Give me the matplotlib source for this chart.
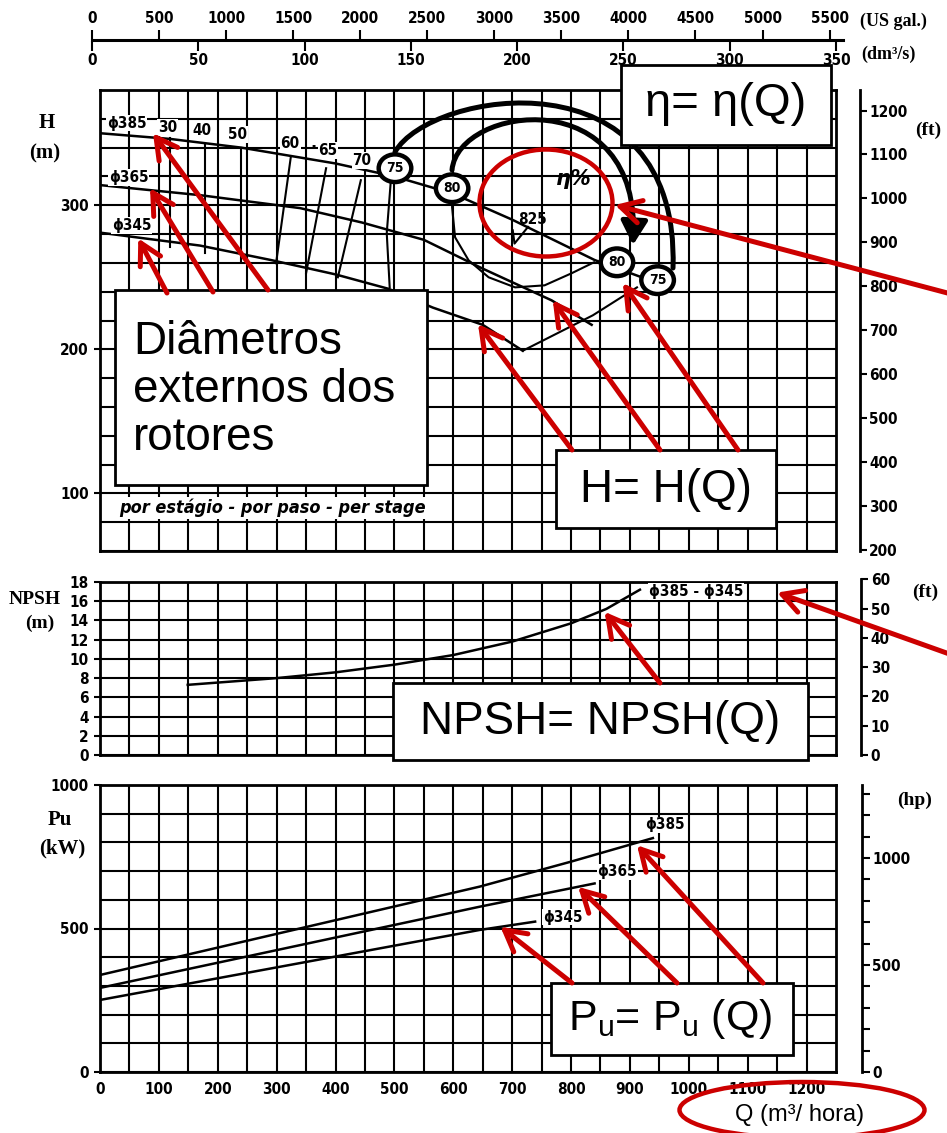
import numpy as np
import matplotlib
matplotlib.use('Agg')
import matplotlib.pyplot as plt
from matplotlib.patches import Rectangle, Ellipse, FancyArrowPatch
from matplotlib.path import Path
from matplotlib import font_manager as fm

# ---------------- data ----------------
q_ticks = list(range(0, 1201, 100))
gal_ticks = list(range(0, 5501, 500))
dm3s_ticks = list(range(0, 351, 50))

# H-Q curves per impeller diameter
q_h385 = [0, 120, 240, 400, 500, 600, 700, 780, 840, 940]
h_385 = [350, 346, 340, 329, 320, 308, 290, 274, 262, 247]
q_h365 = [0, 170, 340, 445, 550, 650, 767, 835]
h_365 = [314, 307, 298, 288, 276, 256, 234, 217]
q_h345 = [0, 170, 290, 400, 490, 565, 650, 718]
h_345 = [281, 272, 262, 252, 242, 229, 217, 199]

# iso-efficiency lines
eff_labels = ['30', '40', '50', '60', '65', '70']
eff_q_top = [119, 178, 239, 324, 384, 443]
eff_h_top = [346.5, 341.7, 340, 333.3, 325.7, 317.4]
eff_q_bot = [119, 178, 239, 299, 350, 404]
eff_h_bot = [271, 266.7, 260.4, 259.7, 252.8, 250]
eff_lab_q = [115, 173, 234, 323, 387, 445]
eff_lab_h = [354, 352, 349, 343, 338, 331]
eff75_left_q = [494, 487, 492]
eff75_left_h = [317.4, 280.6, 243]
eff75_right_q = [718, 837, 912]
eff75_right_h = [199, 223.6, 243]
eff80_q = [598, 598, 603, 626, 660, 705, 755, 801, 839]
eff80_h = [308, 298.6, 277.8, 261.8, 250, 243, 244.4, 252.8, 260.4]
eff825_q = [701, 704, 727]
eff825_h = [282.6, 273.4, 285]
circ_labels = ['75', '80', '80', '75']
circ_q = [501, 598, 878, 947]
circ_h = [325.7, 311.8, 260.4, 248]

# NPSH
q_npsh = [149, 300, 400, 500, 600, 700, 800, 860, 917]
npsh = [7.3, 8.0, 8.6, 9.4, 10.4, 11.8, 13.7, 15.2, 17.2]

# Power
q_pu385 = [0, 645, 800, 939]
pu_385 = [338, 646, 733, 815]
q_pu365 = [0, 645, 840]
pu_365 = [293, 576, 657]
q_pu345 = [0, 645, 739]
pu_345 = [251, 495, 524]

h_ticks = [100, 200, 300]
ft_h_ticks = list(range(200, 1201, 100))
npsh_ticks = list(range(0, 19, 2))
ft_n_ticks = list(range(0, 61, 10))
pu_ticks = [0, 500, 1000]
hp_ticks = list(range(0, 1301, 100))
hp_labels = ['0', '', '', '', '', '500', '', '', '', '', '1000', '', '', '']

M2FT = 3.28084
KW2HP = 1 / 0.7457
GAL_PER_DM3S = 15.8503

# ---------------- style ----------------
names = {f.name for f in fm.fontManager.ttflist}
if 'Liberation Sans Narrow' in names:
    NAR = ['Liberation Sans Narrow', 'DejaVu Sans']
    NSIZE = 14
elif 'DejaVu Sans Condensed' in names:
    NAR = ['DejaVu Sans Condensed', 'DejaVu Sans']
    NSIZE = 13
else:
    NAR = ['DejaVu Sans']
    NSIZE = 11
plt.rcParams['font.family'] = NAR
plt.rcParams['font.weight'] = 'bold'
plt.rcParams['font.stretch'] = 'condensed'
plt.rcParams['mathtext.fontset'] = 'custom'
plt.rcParams['mathtext.rm'] = 'Liberation Sans:weight=normal:stretch=normal'
plt.rcParams['mathtext.it'] = 'Liberation Sans:style=italic:weight=normal:stretch=normal'
plt.rcParams['mathtext.bf'] = 'Liberation Sans:weight=bold:stretch=normal'

W, HP = 947, 1133
fig = plt.figure(figsize=(W / 100, HP / 100), dpi=100)
fig.patch.set_facecolor('white')


def rect(l, t, r, b):
    return [l / W, 1 - b / HP, (r - l) / W, (b - t) / HP]


axH = fig.add_axes(rect(100, 90, 836, 551))
axN = fig.add_axes(rect(100, 582, 836, 755))
axP = fig.add_axes(rect(100, 785, 836, 1072))

SER = ['Liberation Serif', 'DejaVu Serif']
SANS = ['Liberation Sans', 'DejaVu Sans']


def style(ax, ylim, ymaj, ymin):
    ax.set_xlim(0, 1250)
    ax.set_ylim(*ylim)
    ax.set_xticks(q_ticks)
    ax.set_xticks(np.arange(50, 1250, 100), minor=True)
    ax.set_yticks(ymaj)
    ax.set_yticks(ymin, minor=True)
    ax.grid(True, which='both', color='black', lw=1.5)
    ax.set_axisbelow(True)
    for s in ax.spines.values():
        s.set_linewidth(2)
    ax.tick_params(axis='x', which='both', length=0, labelbottom=False)
    ax.tick_params(axis='y', which='minor', length=0)
    ax.tick_params(axis='y', which='major', length=4, width=1.5, labelsize=NSIZE, pad=4)


style(axH, (60, 380), h_ticks, np.arange(60, 381, 20))
style(axN, (0, 18), npsh_ticks, np.arange(0, 19, 2))
style(axP, (0, 1000), pu_ticks, np.arange(0, 1001, 100))
axP.tick_params(axis='x', which='major', labelbottom=True, labelsize=NSIZE, pad=7)

# ---- H panel content ----
lw = 1.8
for q, h in [(q_h385, h_385), (q_h365, h_365), (q_h345, h_345)]:
    axH.plot(q, h, color='black', lw=lw)
for i, lab in enumerate(eff_labels):
    axH.plot([eff_q_top[i], eff_q_bot[i]], [eff_h_top[i], eff_h_bot[i]], color='black', lw=1.5)
    axH.text(eff_lab_q[i], eff_lab_h[i], lab, ha='center', va='center', fontsize=NSIZE,
             bbox=dict(boxstyle='square,pad=0.05', fc='white', ec='none'))
axH.text(eff_lab_q[4] - 24, eff_lab_h[4] + 2, '·', ha='center', va='center', fontsize=13)
axH.plot(eff75_left_q, eff75_left_h, color='black', lw=1.5)
axH.plot(eff75_right_q, eff75_right_h, color='black', lw=1.5)
axH.plot(eff80_q, eff80_h, color='black', lw=1.5)
axH.plot(eff825_q, eff825_h, color='black', lw=1.5)
axH.text(735, 290, '825', ha='center', va='center', fontsize=NSIZE)
axH.text(805, 318, 'η%', ha='center', va='center', fontsize=15, style='italic',
         family=['DejaVu Sans'], stretch='normal')
for lab, q, h in zip(['ϕ385', 'ϕ365', 'ϕ345'], [12, 15, 20], [357, 319.4, 286]):
    axH.text(q, h, lab, ha='left', va='center', fontsize=NSIZE,
             bbox=dict(boxstyle='square,pad=0.05', fc='white', ec='none'))
for lab, q, h in zip(circ_labels, circ_q, circ_h):
    axH.text(q, h, lab, ha='center', va='center', fontsize=NSIZE - 1, zorder=6,
             bbox=dict(boxstyle='ellipse,pad=0.2', fc='white', ec='black', lw=3.2))
axH.text(0.235, 0.093, 'por estágio - por paso - per stage', transform=axH.transAxes,
         ha='center', va='center', fontsize=NSIZE + 2, style='italic',
         bbox=dict(boxstyle='square,pad=0.1', fc='white', ec='none'))

# right ft axis for H
axHf = axH.twinx()
axHf.set_ylim(60 * M2FT, 380 * M2FT)
axHf.set_yticks(ft_h_ticks)
for k in ['top', 'left', 'bottom']:
    axHf.spines[k].set_visible(False)
axHf.spines['right'].set_position(('outward', 17))
axHf.spines['right'].set_linewidth(2)
axHf.tick_params(axis='y', length=5, width=1.5, labelsize=NSIZE, pad=2)

# ---- NPSH panel ----
axN.plot(q_npsh, npsh, color='black', lw=lw)
axN.text(932, 17.0, 'ϕ385 - ϕ345', ha='left', va='center', fontsize=NSIZE,
         bbox=dict(boxstyle='square,pad=0.05', fc='white', ec='none'))
top_ft = 755 - (60 / M2FT) * (173 / 18)
axNf = fig.add_axes(rect(100, top_ft, 836, 755))
axNf.patch.set_visible(False)
axNf.set_xlim(0, 1)
axNf.set_ylim(0, 60)
axNf.set_xticks([])
axNf.yaxis.tick_right()
axNf.set_yticks(ft_n_ticks)
for k in ['top', 'left', 'bottom']:
    axNf.spines[k].set_visible(False)
axNf.spines['right'].set_position(('outward', 18))
axNf.spines['right'].set_linewidth(2)
axNf.tick_params(axis='y', length=5, width=1.5, labelsize=NSIZE, pad=2)

# ---- Pu panel ----
for q, p in [(q_pu385, pu_385), (q_pu365, pu_365), (q_pu345, pu_345)]:
    axP.plot(q, p, color='black', lw=lw)
for lab, q, p in zip(['ϕ385', 'ϕ365', 'ϕ345'], [925, 845, 752], [861, 697, 540]):
    axP.text(q, p, lab, ha='left', va='center', fontsize=NSIZE,
             bbox=dict(boxstyle='square,pad=0.05', fc='white', ec='none'))
axPh = axP.twinx()
axPh.set_ylim(0, 1000 * KW2HP)
axPh.set_yticks(hp_ticks)
axPh.set_yticklabels(hp_labels)
for k in ['top', 'left', 'bottom']:
    axPh.spines[k].set_visible(False)
axPh.spines['right'].set_position(('outward', 19))
axPh.spines['right'].set_linewidth(2)
axPh.tick_params(axis='y', length=6, width=1.5, labelsize=NSIZE, pad=1)

# ---- top dual flow axis ----
axT = fig.add_axes(rect(92, 39.5, 92 + 751, 40.5))
axT.patch.set_visible(False)
axT.set_xlim(0, 5600)
axT.set_yticks([])
axT2 = axT.twiny()
axT2.set_xlim(0, 5600 / GAL_PER_DM3S)
for a in (axT, axT2):
    for k in ['left', 'right', 'bottom', 'top']:
        a.spines[k].set_visible(False)
axT.spines['top'].set_visible(True)
axT.spines['top'].set_linewidth(2.2)
axT.xaxis.tick_top()
axT.set_xticks(gal_ticks)
axT.tick_params(axis='x', which='both', top=True, bottom=False, labeltop=True,
                labelbottom=False, length=7, width=1.5, labelsize=NSIZE, pad=3)
axT2.xaxis.tick_bottom()
axT2.set_xticks(dm3s_ticks)
axT2.tick_params(axis='x', which='both', top=False, bottom=True, labeltop=False,
                 labelbottom=True, length=7, width=1.5, labelsize=NSIZE, pad=2)

# ---------------- overlay (annotations in pixel coords) ----------------
ov = fig.add_axes([0, 0, 1, 1], zorder=10)
ov.set_xlim(0, W)
ov.set_ylim(HP, 0)
ov.axis('off')
ov.patch.set_visible(False)


def serif(x, y, s, size):
    ov.text(x, y, s, family=SER, fontsize=size, stretch='normal', ha='center', va='center')


serif(47, 123, 'H', 15)
serif(45, 153, '(m)', 15)
serif(35, 600, 'NPSH', 14)
serif(40, 623, '(m)', 14)
serif(60, 820, 'Pu', 15)
serif(62, 848, '(kW)', 15)
serif(928, 130, '(ft)', 14)
serif(925, 592, '(ft)', 14)
serif(915, 800, '(hp)', 14)
serif(893, 21, '(US gal.)', 13)
serif(888, 54, '(dm³/s)', 13)

# white text boxes
boxes = [
    (115, 290, 427, 485),
    (556, 450, 776, 528),
    (621, 65, 831, 145),
    (393, 683, 808, 760),
    (551, 983, 793, 1055),
]
for l, t, r, b in boxes:
    ov.add_patch(Rectangle((l, t), r - l, b - t, fc='white', ec='black', lw=2, zorder=3))


def sans(x, y, s, size, ha='center', **kw):
    ov.text(x, y, s, family=SANS, fontsize=size, fontweight='normal', stretch='normal',
            ha=ha, va='center', zorder=4, **kw)


sans(133, 390, 'Diâmetros\nexternos dos\nrotores', 33, ha='left', linespacing=1.12)
sans(666, 490, 'H= H(Q)', 33)
sans(726, 104, 'η= η(Q)', 34)
sans(600, 722, 'NPSH= NPSH(Q)', 33)
sans(670, 1019, r'P$_{\rm u}$= P$_{\rm u}$ (Q)', 31)
sans(800, 1115, 'Q (m³/ hora)', 17)

red = '#cc0000'


def red_arrow(tail, tip, coords):
    ov.annotate('', xy=tip, xycoords=coords, xytext=tail, textcoords='data',
                arrowprops=dict(arrowstyle='->,head_length=1.0,head_width=0.55',
                                mutation_scale=15, color=red, lw=3.6,
                                shrinkA=0, shrinkB=0), zorder=6)


# diameters
red_arrow((167, 293), (65, 277), axH.transData)
red_arrow((213, 292), (85, 311.8), axH.transData)
red_arrow((268, 290), (90, 350), axH.transData)
# H(Q)
red_arrow((572, 450), (642, 217.5), axH.transData)
red_arrow((660, 450), (769, 234), axH.transData)
red_arrow((738, 450), (888, 246), axH.transData)
# efficiency circle
red_arrow((955, 295), (615, 205), ov.transData)
# NPSH
red_arrow((660, 683), (857, 14.9), axN.transData)
red_arrow((955, 656), (1150, 16.9), axN.transData)
# Pu
red_arrow((572, 983), (680, 506), axP.transData)
red_arrow((677, 983), (812, 645), axP.transData)
red_arrow((763, 983), (912, 790), axP.transData)

ov.add_patch(Ellipse((546, 203), 133, 107, fill=False, ec=red, lw=3.2, zorder=6))
ov.add_patch(Ellipse((802, 1110), 245, 56, fill=False, ec=red, lw=3.2, zorder=6))

# black arcs linking the efficiency labels
arc_outer = Path([(395, 152), (430, 90), (680, 50), (673, 268)],
                 [Path.MOVETO, Path.CURVE4, Path.CURVE4, Path.CURVE4])
arc_inner = Path([(452, 170), (458, 105), (642, 80), (633, 245)],
                 [Path.MOVETO, Path.CURVE4, Path.CURVE4, Path.CURVE4])
ov.add_patch(FancyArrowPatch(path=arc_outer, arrowstyle='-', lw=3.6, color='black', zorder=2))
ov.add_patch(FancyArrowPatch(path=arc_inner, arrowstyle='-|>,head_length=0.8,head_width=0.45',
                             mutation_scale=18, lw=3.6, color='black', zorder=2))

fig.savefig('out.png', dpi=100, facecolor='white')
